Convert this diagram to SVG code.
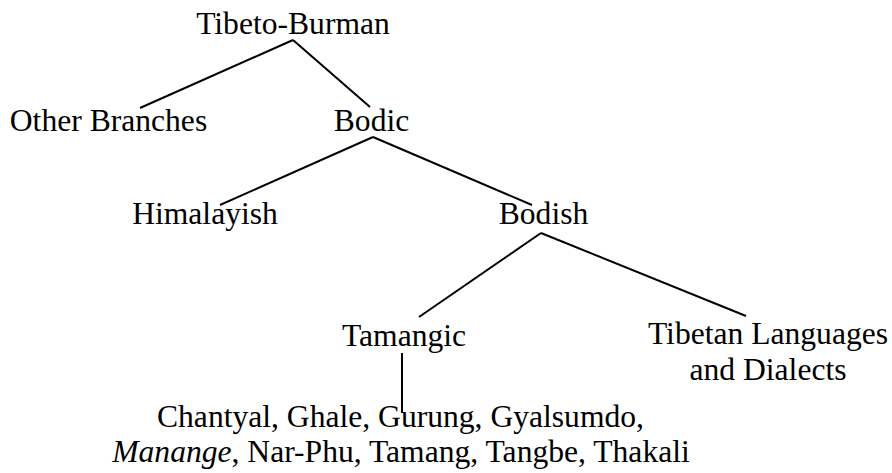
<svg xmlns="http://www.w3.org/2000/svg" width="892" height="473" viewBox="0 0 892 473">
<style>
text{font-family:"Liberation Serif","Times New Roman",serif;font-size:31.6px;fill:#000;text-anchor:middle}
.c line{stroke:#000;stroke-width:2;stroke-linecap:butt}
</style>
<rect width="892" height="473" fill="#fff"/>
<g class="c" id="connectors">
<line x1="293" y1="40" x2="140" y2="108"/>
<line x1="293" y1="40" x2="370" y2="107"/>
<line x1="373" y1="137" x2="220" y2="205"/>
<line x1="373" y1="137" x2="532" y2="205"/>
<line x1="541" y1="233" x2="419" y2="317"/>
<line x1="541" y1="233" x2="746" y2="316"/>
<line x1="402" y1="353" x2="402" y2="413"/>
</g>
<g id="tibeto-burman"><text x="293" y="34">Tibeto-Burman</text></g>
<g id="other-branches"><text x="108.5" y="131">Other Branches</text></g>
<g id="bodic"><text x="371.5" y="131">Bodic</text></g>
<g id="himalayish"><text x="205" y="224">Himalayish</text></g>
<g id="bodish"><text x="543.5" y="224">Bodish</text></g>
<g id="tamangic"><text x="404" y="346">Tamangic</text></g>
<g id="tibetan"><text x="768" y="344">Tibetan Languages</text><text x="768" y="380">and Dialects</text></g>
<g id="languages"><text x="400.5" y="427">Chantyal, Ghale, Gurung, Gyalsumdo,</text><text x="401" y="462"><tspan font-style="italic">Manange</tspan>, Nar-Phu, Tamang, Tangbe, Thakali</text></g>
</svg>
